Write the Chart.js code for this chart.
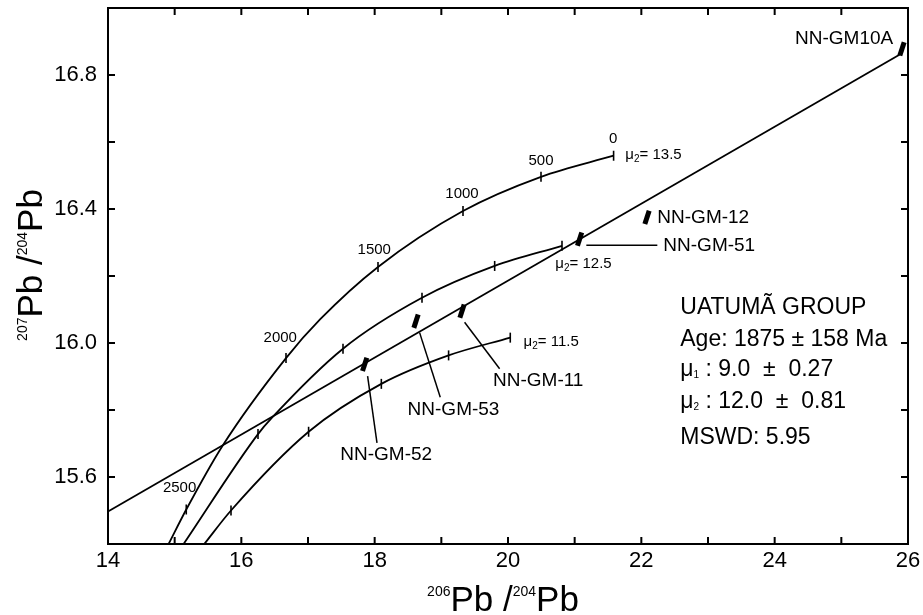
<!DOCTYPE html>
<html>
<head>
<meta charset="utf-8">
<title>Pb isotope diagram - Uatumã Group</title>
<script src="https://cdn.jsdelivr.net/npm/chart.js@4"></script>
<style>
    html, body { margin: 0; padding: 0; background: #fff; }
    #wrap { width: 923px; height: 615px; position: relative; }
</style>
</head>
<body>
<div id="wrap"><canvas id="pbChart"></canvas></div>

<script>
    // growth curves (mu2 = 13.5 / 12.5 / 11.5)
    const mu135X = [14.909, 15.174, 15.714, 16.670, 17.184, 18.050, 19.325, 20.495, 21.584];
    const mu135Y = [15.400, 15.503, 15.692, 15.955, 16.071, 16.227, 16.394, 16.496, 16.559];
    const mu125X = [15.134, 16.250, 16.460, 17.525, 18.710, 19.800, 20.810];
    const mu125Y = [15.400, 15.728, 15.777, 15.983, 16.135, 16.230, 16.290];
    const mu115X = [15.444, 15.845, 17.009, 18.100, 19.109, 20.034];
    const mu115Y = [15.400, 15.500, 15.735, 15.878, 15.963, 16.016];

    // age ticks on the curves (0, 500, 1000 ... Ma)
    const ageLabels = ['0', '500', '1000', '1500', '2000', '2500'];
    const tick135X = [21.584, 20.495, 19.325, 18.050, 16.670, 15.174];
    const tick135Y = [16.559, 16.496, 16.394, 16.227, 15.955, 15.503];
    const tick125X = [20.810, 19.800, 18.710, 17.525, 16.250];
    const tick125Y = [16.290, 16.230, 16.135, 15.983, 15.728];
    const tick115X = [20.034, 19.109, 18.100, 17.009, 15.845];
    const tick115Y = [16.016, 15.963, 15.878, 15.735, 15.500];

    // isochron
    const isoX = [14.0, 25.91];
    const isoY = [15.497, 16.865];

    // samples
    const sampleNames = ['NN-GM10A', 'NN-GM-12', 'NN-GM-51', 'NN-GM-11', 'NN-GM-53', 'NN-GM-52'];
    const sampleX = [25.91, 22.085, 21.074, 19.31, 18.62, 17.85];
    const sampleY = [16.878, 16.375, 16.310, 16.095, 16.065, 15.936];

    const muValues = ['13.5', '12.5', '11.5'];
    const resultLines = ['UATUMÃ GROUP', 'Age: 1875 ± 158 Ma', '9.0  ±  0.27', '12.0  ±  0.81', 'MSWD: 5.95'];

    // ---- label placement (data coordinates) ----
    const ageLabelPos = [[21.578, 16.609], [20.495, 16.544], [19.31, 16.444], [17.994, 16.278], [16.584, 16.014], [15.074, 15.568]];
    const muLabelPos = [[21.76, 16.564], [20.71, 16.240], [20.234, 16.006]];
    const sampleLabelPos = [[24.306, 16.908], [22.24, 16.375], [22.33, 16.290], [19.775, 15.886], [18.494, 15.801], [17.484, 15.667]];
    const leaders = [
        null, null,
        [[21.175, 16.292], [22.24, 16.292]],
        [[19.349, 16.062], [19.874, 15.923]],
        [[18.674, 16.031], [18.984, 15.838]],
        [[17.894, 15.901], [18.035, 15.702]]
    ];

    const FONT = "'Liberation Sans', Arial, Helvetica, sans-serif";
    const pts = (xs, ys) => xs.map((x, i) => ({ x: x, y: ys[i] }));

    // text with sub/superscripts, parts = [{t, size, dy}]
    function richText(ctx, parts, x, y, align) {
        let w = 0;
        parts.forEach(p => {
            ctx.font = p.size + 'px ' + FONT;
            p.w = ctx.measureText(p.t).width;
            w += p.w;
        });
        let cx = align === 'center' ? x - w / 2 : (align === 'right' ? x - w : x);
        ctx.textAlign = 'left';
        ctx.textBaseline = 'alphabetic';
        parts.forEach(p => {
            ctx.font = p.size + 'px ' + FONT;
            ctx.fillText(p.t, cx, y + (p.dy || 0));
            cx += p.w;
        });
    }

    const annotations = {
        id: 'annotations',
        afterDatasetsDraw(chart) {
            const { ctx, scales: { x, y } } = chart;
            const X = v => x.getPixelForValue(v);
            const Y = v => y.getPixelForValue(v);
            ctx.save();
            ctx.fillStyle = '#000';
            ctx.strokeStyle = '#000';

            // leader lines
            ctx.lineWidth = 1.5;
            leaders.forEach(l => {
                if (!l) return;
                ctx.beginPath();
                ctx.moveTo(X(l[0][0]), Y(l[0][1]));
                ctx.lineTo(X(l[1][0]), Y(l[1][1]));
                ctx.stroke();
            });

            // age labels
            ctx.font = '15px ' + FONT;
            ctx.textAlign = 'center';
            ctx.textBaseline = 'middle';
            ageLabels.forEach((t, i) => ctx.fillText(t, X(ageLabelPos[i][0]), Y(ageLabelPos[i][1])));

            // mu2 labels
            muValues.forEach((m, i) => {
                richText(ctx, [
                    { t: 'μ', size: 15 },
                    { t: '2', size: 10, dy: 3 },
                    { t: '= ' + m, size: 15 }
                ], X(muLabelPos[i][0]), Y(muLabelPos[i][1]) + 5, 'left');
            });

            // sample names
            ctx.font = '19px ' + FONT;
            ctx.textAlign = 'left';
            ctx.textBaseline = 'middle';
            sampleNames.forEach((n, i) => ctx.fillText(n, X(sampleLabelPos[i][0]), Y(sampleLabelPos[i][1])));

            // result box
            const bx = X(22.584), by = Y(16.086);
            const offs = [0, 32, 62, 94, 130];
            ctx.font = '23px ' + FONT;
            ctx.textBaseline = 'alphabetic';
            ctx.fillText(resultLines[0], bx, by + offs[0]);
            ctx.fillText(resultLines[1], bx, by + offs[1]);
            richText(ctx, [{ t: 'μ', size: 23 }, { t: '1', size: 10, dy: 2 }, { t: ' : ' + resultLines[2], size: 23 }], bx, by + offs[2], 'left');
            richText(ctx, [{ t: 'μ', size: 23 }, { t: '2', size: 10, dy: 2 }, { t: ' : ' + resultLines[3], size: 23 }], bx, by + offs[3], 'left');
            ctx.font = '23px ' + FONT;
            ctx.fillText(resultLines[4], bx, by + offs[4]);
            ctx.restore();
        },
        afterDraw(chart) {
            const { ctx, chartArea: a, scales: { x, y } } = chart;
            ctx.save();
            ctx.strokeStyle = '#000';
            ctx.fillStyle = '#000';
            ctx.lineWidth = 2;
            ctx.strokeRect(a.left, a.top, a.right - a.left, a.bottom - a.top);

            // inward ticks on all four sides
            const len = 7;
            ctx.beginPath();
            x.ticks.forEach(t => {
                const px = x.getPixelForValue(t.value);
                if (px <= a.left + 1 || px >= a.right - 1) return;
                ctx.moveTo(px, a.bottom); ctx.lineTo(px, a.bottom - len);
                ctx.moveTo(px, a.top); ctx.lineTo(px, a.top + len);
            });
            y.ticks.forEach(t => {
                const py = y.getPixelForValue(t.value);
                if (py <= a.top + 1 || py >= a.bottom - 1) return;
                ctx.moveTo(a.left, py); ctx.lineTo(a.left + len, py);
                ctx.moveTo(a.right, py); ctx.lineTo(a.right - len, py);
            });
            ctx.stroke();

            // axis titles
            richText(ctx, [
                { t: '206', size: 14, dy: -15 }, { t: 'Pb /', size: 35 },
                { t: '204', size: 14, dy: -15 }, { t: 'Pb', size: 35 }
            ], 503, 611, 'center');
            ctx.translate(42, 265);
            ctx.rotate(-Math.PI / 2);
            richText(ctx, [
                { t: '207', size: 14, dy: -15 }, { t: 'Pb /', size: 35 },
                { t: '204', size: 14, dy: -15 }, { t: 'Pb', size: 35 }
            ], 0, 0, 'center');
            ctx.restore();
        }
    };

    const lineSet = (data, smooth) => ({
        data: data,
        showLine: true,
        borderColor: '#000',
        borderWidth: 1.8,
        pointRadius: 0,
        fill: false,
        cubicInterpolationMode: smooth ? 'monotone' : 'default',
        tension: 0
    });
    const tickSet = data => ({
        data: data,
        showLine: false,
        pointStyle: 'line',
        pointRotation: 90,
        pointRadius: 5,
        pointBorderWidth: 1.6,
        borderColor: '#000',
        backgroundColor: '#000'
    });

    // drop the label-size padding chart.js adds around the axes
    const noPad = s => { s.paddingTop = 0; s.paddingBottom = 0; s.paddingLeft = 0; s.paddingRight = 0; };

    new Chart(document.getElementById('pbChart'), {
        type: 'scatter',
        data: {
            datasets: [
                lineSet(pts(isoX, isoY), false),
                lineSet(pts(mu135X, mu135Y), true),
                lineSet(pts(mu125X, mu125Y), true),
                lineSet(pts(mu115X, mu115Y), true),
                tickSet(pts(tick135X, tick135Y)),
                tickSet(pts(tick125X, tick125Y)),
                tickSet(pts(tick115X, tick115Y)),
                {
                    data: pts(sampleX, sampleY),
                    showLine: false,
                    pointStyle: 'line',
                    pointRotation: -72,
                    pointRadius: 7,
                    pointBorderWidth: 5,
                    borderColor: '#000',
                    backgroundColor: '#000',
                    clip: false
                }
            ]
        },
        options: {
            responsive: true,
            maintainAspectRatio: false,
            animation: false,
            events: [],
            layout: { autoPadding: false, padding: { top: 8, right: 15, bottom: 0, left: 0 } },
            plugins: { legend: { display: false }, tooltip: { enabled: false } },
            scales: {
                x: {
                    type: 'linear', min: 14, max: 26,
                    grid: { display: false, drawTicks: false },
                    border: { display: false },
                    ticks: {
                        stepSize: 1, autoSkip: false, maxRotation: 0, padding: 4,
                        color: '#000', font: { family: FONT, size: 22 },
                        callback: v => (Math.round(v) % 2 === 0 ? Math.round(v) : '')
                    },
                    afterFit: s => { s.height = 71; noPad(s); }
                },
                y: {
                    type: 'linear', min: 15.4, max: 17.0,
                    grid: { display: false, drawTicks: false },
                    border: { display: false },
                    ticks: {
                        stepSize: 0.2, autoSkip: false, padding: 11,
                        color: '#000', font: { family: FONT, size: 22 },
                        callback: v => (Math.round(v * 10) % 4 === 0 ? v.toFixed(1) : '')
                    },
                    afterFit: s => { s.width = 108; noPad(s); }
                }
            }
        },
        plugins: [annotations]
    });
</script>
</body>
</html>
